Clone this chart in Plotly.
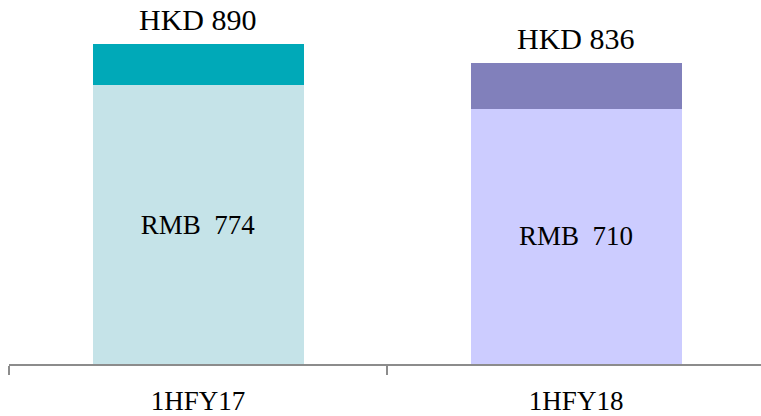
import plotly.graph_objects as go

# Half-year figures
periods = ["1HFY17", "1HFY18"]
rmb_values = [774, 710]
hkd_values = [890, 836]

rmb_colors = ["#C5E3E8", "#CCCCFF"]
hkd_colors = ["#00A9B8", "#8180BB"]

# HKD portion stacked above the RMB amount so the total equals the HKD figure
hkd_extra = [h - r for h, r in zip(hkd_values, rmb_values)]

FONT = "Liberation Serif"

fig = go.Figure()
fig.add_trace(go.Bar(
    x=periods, y=rmb_values,
    marker=dict(color=rmb_colors, line=dict(width=0)),
    text=[f"RMB  {v}" for v in rmb_values],
    textposition="inside", insidetextanchor="middle",
    textfont=dict(family=FONT, size=27, color="black"),
    hoverinfo="skip",
))
fig.add_trace(go.Bar(
    x=periods, y=hkd_extra,
    marker=dict(color=hkd_colors, line=dict(width=0)),
    hoverinfo="skip",
))

for p, h in zip(periods, hkd_values):
    fig.add_annotation(
        x=p, y=h, text=f"HKD {h}", showarrow=False,
        yanchor="bottom", yshift=6,
        font=dict(family=FONT, size=30, color="black"),
    )

fig.update_layout(
    width=761, height=416,
    margin=dict(l=9, r=0, t=0, b=50),
    barmode="stack", bargap=0.442,
    showlegend=False,
    plot_bgcolor="white", paper_bgcolor="white",
    uniformtext=dict(mode=False),
)
fig.update_xaxes(
    range=[-0.5, 1.489],
    showline=True, linecolor="#8C8C8C", linewidth=2,
    ticks="outside", tickson="boundaries", ticklen=9, tickwidth=2, tickcolor="#8C8C8C",
    ticklabelstandoff=12,
    tickfont=dict(family=FONT, size=27, color="black"),
    showgrid=False, zeroline=False,
)
fig.update_yaxes(
    range=[0, 1011.6], visible=False, showgrid=False, zeroline=False,
)

fig.write_html("out.html")
